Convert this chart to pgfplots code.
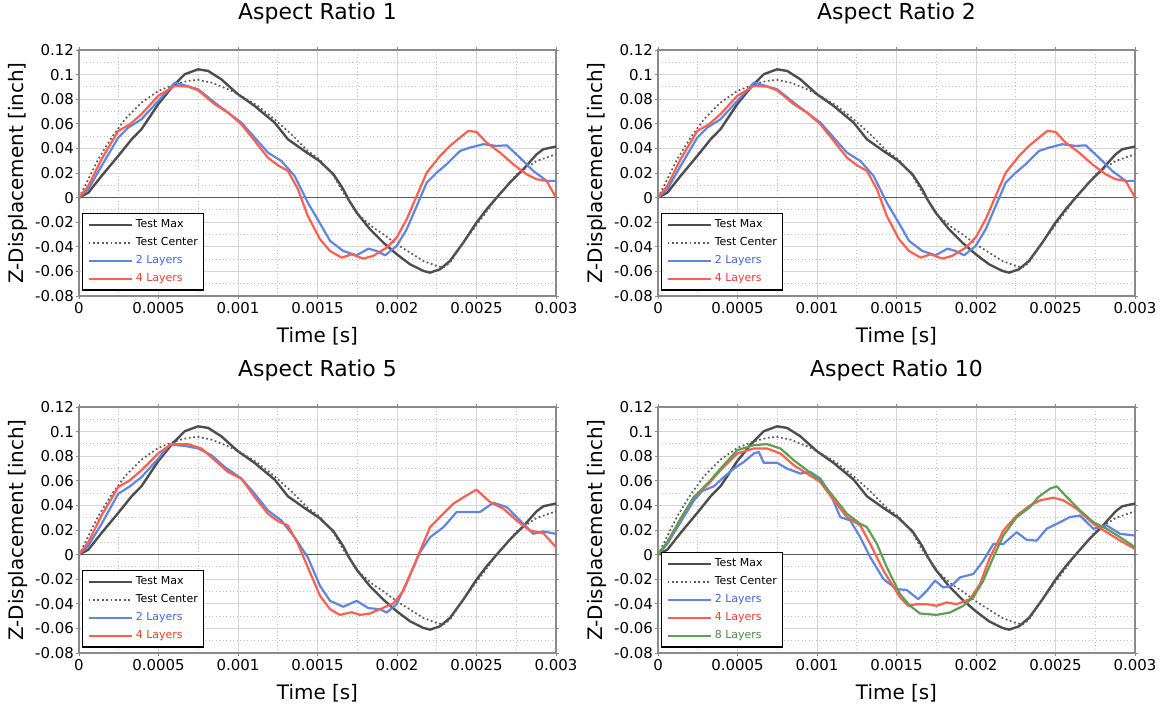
\documentclass[border=0pt]{standalone}
\usepackage{pgfplots}
\pgfplotsset{compat=1.18}
\usepackage{pgfplotstable}
\usepackage{fontspec}
\setmainfont{DejaVu Sans}

\definecolor{tmaxc}{HTML}{4D4D4D}
\definecolor{tcenc}{HTML}{5A5A5A}
\definecolor{lay2}{HTML}{5F86E0}
\definecolor{lay4}{HTML}{FF5F4F}
\definecolor{lay8}{HTML}{5E9E55}
\definecolor{lay2t}{HTML}{3F68DC}
\definecolor{lay4t}{HTML}{F03E2E}
\definecolor{lay8t}{HTML}{4A8A42}
\definecolor{gridmaj}{HTML}{D6D6D6}
\definecolor{gridmin}{HTML}{BDBDBD}
\definecolor{axisgray}{HTML}{8A8A8A}
\definecolor{zerogray}{HTML}{5A5A5A}

\pgfplotstableread{
t v
0 0
0.0000586 0.004
0.000142 0.0176
0.000247 0.0339
0.000331 0.0474
0.000393 0.0556
0.000498 0.0759
0.000582 0.0894
0.000665 0.1003
0.000749 0.1043
0.000812 0.1030
0.000895 0.0962
0.001 0.0840
0.001105 0.0745
0.00123 0.0610
0.001314 0.0474
0.001418 0.0379
0.001512 0.0298
0.0016 0.019
0.001662 0.0068
0.001694 -0.0014
0.001746 -0.0122
0.00183 -0.0257
0.001914 -0.0366
0.001998 -0.046
0.002082 -0.0542
0.002166 -0.0596
0.002208 -0.061
0.00227 -0.0583
0.002333 -0.0515
0.002417 -0.0366
0.0025 -0.0203
0.002564 -0.0095
0.002627 0
0.00271 0.0122
0.002794 0.023
0.002878 0.0352
0.00292 0.0393
0.003 0.0415
}\tmax

\pgfplotstableread{
t v
0 0
0.0000377 0.0095
0.000121 0.0312
0.000205 0.0488
0.000289 0.0637
0.000393 0.0772
0.000498 0.0867
0.000603 0.0921
0.000686 0.0949
0.000749 0.0957
0.000833 0.0935
0.000937 0.0881
0.001021 0.0827
0.001125 0.0745
0.00123 0.0637
0.001335 0.0515
0.001439 0.0379
0.001512 0.0312
0.0016 0.018
0.001662 0.004
0.001767 -0.0149
0.00185 -0.0244
0.001914 -0.0298
0.001998 -0.0379
0.002082 -0.0447
0.002166 -0.0515
0.00225 -0.0556
0.002292 -0.0569
0.002333 -0.0528
0.002417 -0.0366
0.002543 -0.0149
0.002627 0
0.002752 0.019
0.002878 0.0298
0.003 0.0352
}\tcen

\pgfplotstableread{
t v
0 0
0.0000586 0.0068
0.000142 0.0257
0.000247 0.0488
0.00031 0.0569
0.000393 0.0637
0.000498 0.0786
0.000603 0.0935
0.000665 0.0913
0.000749 0.0881
0.000854 0.0772
0.000937 0.0691
0.001021 0.061
0.001105 0.0488
0.001188 0.0366
0.001272 0.0298
0.001356 0.0176
0.001439 -0.0041
0.001516 -0.021
0.001579 -0.0352
0.001662 -0.0434
0.001746 -0.0469
0.00182 -0.0415
0.001872 -0.0434
0.001925 -0.0469
0.001998 -0.0393
0.002061 -0.0257
0.002124 -0.0068
0.002187 0.0122
0.00225 0.0203
0.002312 0.0271
0.002396 0.0379
0.00246 0.0407
0.002543 0.0434
0.002627 0.042
0.00269 0.0425
0.002773 0.0325
0.002857 0.0217
0.002941 0.0136
0.003 0.0136
}\atwo

\pgfplotstableread{
t v
0 0
0.0000586 0.0095
0.000142 0.0312
0.000247 0.0542
0.00032 0.0596
0.000393 0.0678
0.000498 0.0827
0.000603 0.0908
0.000686 0.0902
0.000749 0.0873
0.000854 0.0759
0.000937 0.0691
0.001021 0.0596
0.001105 0.0461
0.001188 0.0325
0.001251 0.0263
0.001314 0.0217
0.001377 0.0068
0.001439 -0.0149
0.001516 -0.0339
0.001579 -0.0434
0.001652 -0.0488
0.001715 -0.0461
0.001788 -0.0496
0.00185 -0.0474
0.001935 -0.0407
0.001998 -0.0325
0.002061 -0.0176
0.002124 0.0014
0.002187 0.0203
0.002271 0.0339
0.002333 0.042
0.002396 0.0488
0.002448 0.0542
0.0025 0.0534
0.002564 0.0447
0.002648 0.0366
0.002731 0.0271
0.002815 0.019
0.002878 0.0149
0.002941 0.0136
0.003 0
}\afour

\pgfplotstableread{
t v
0 0
0.0000586 0.0073
0.000142 0.025
0.000247 0.0495
0.00032 0.0555
0.000393 0.063
0.000498 0.078
0.000571 0.0895
0.000665 0.0884
0.000749 0.0863
0.000833 0.0808
0.000916 0.0713
0.001021 0.0618
0.001105 0.0495
0.001188 0.0359
0.001272 0.0278
0.001356 0.0141
0.001439 -0.0022
0.001516 -0.0255
0.001579 -0.0376
0.001662 -0.0424
0.001746 -0.0376
0.00182 -0.0435
0.001893 -0.0444
0.001935 -0.0471
0.001998 -0.0403
0.002061 -0.0226
0.002145 0.0019
0.002208 0.0141
0.002292 0.0223
0.002375 0.0346
0.002459 0.0346
0.002522 0.0346
0.002606 0.0422
0.00269 0.0386
0.002773 0.0278
0.002857 0.0169
0.00292 0.0188
0.003 0.0169
}\ctwo

\pgfplotstableread{
t v
0 0
0.0000586 0.0101
0.000142 0.0318
0.000247 0.055
0.00032 0.0604
0.000393 0.0686
0.000498 0.0822
0.000582 0.0898
0.000686 0.0898
0.00077 0.0863
0.000854 0.0767
0.000937 0.0672
0.001021 0.0618
0.001105 0.0468
0.001188 0.0332
0.001251 0.0272
0.001314 0.0237
0.001377 0.0087
0.001439 -0.0103
0.001516 -0.0335
0.001579 -0.0444
0.001641 -0.049
0.001715 -0.0468
0.001767 -0.049
0.00183 -0.0479
0.001893 -0.0444
0.001977 -0.0397
0.00204 -0.0294
0.002124 -0.0035
0.002208 0.0223
0.00227 0.0305
0.002354 0.0414
0.002438 0.0482
0.0025 0.0528
0.002585 0.0427
0.002669 0.0373
0.002752 0.0278
0.002836 0.0196
0.00292 0.0174
0.003 0.006
}\cfour

\pgfplotstableread{
t v
0 0
0.0000586 0.0087
0.000142 0.0264
0.000226 0.0441
0.000278 0.0517
0.000351 0.0555
0.000414 0.0631
0.000477 0.0699
0.00054 0.0754
0.000603 0.0822
0.000634 0.0835
0.000665 0.0746
0.000749 0.0746
0.000812 0.0699
0.000895 0.0659
0.000958 0.0672
0.001021 0.0618
0.001084 0.0495
0.001146 0.0305
0.001209 0.0278
0.001272 0.0141
0.001335 -0.0022
0.001418 -0.0199
0.0015 -0.028
0.001564 -0.0288
0.001637 -0.0362
0.00169 -0.0294
0.001742 -0.0212
0.001795 -0.0267
0.001847 -0.0253
0.0019 -0.0185
0.001983 -0.0158
0.002046 -0.0049
0.002109 0.0087
0.002172 0.0087
0.002256 0.0182
0.002319 0.012
0.002382 0.0114
0.002444 0.021
0.002508 0.025
0.002591 0.0305
0.002654 0.0318
0.002738 0.021
0.002822 0.0237
0.002906 0.0169
0.003 0.0155
}\dtwo

\pgfplotstableread{
t v
0 0
0.0000586 0.0101
0.000142 0.0291
0.000226 0.0468
0.00032 0.0577
0.000393 0.0686
0.000498 0.0822
0.000603 0.0863
0.000686 0.0863
0.00077 0.0822
0.000854 0.0727
0.000937 0.0659
0.001021 0.059
0.001105 0.0441
0.001188 0.0305
0.001272 0.0237
0.001335 0.0087
0.001418 -0.0131
0.001522 -0.0348
0.001574 -0.0416
0.001627 -0.0403
0.00169 -0.0403
0.001752 -0.0416
0.001815 -0.0389
0.001878 -0.0403
0.001962 -0.0362
0.002025 -0.0239
0.002088 -0.0022
0.002172 0.0196
0.002256 0.0318
0.00234 0.04
0.002403 0.0441
0.002486 0.0463
0.00255 0.0441
0.002633 0.0373
0.002738 0.025
0.002822 0.0182
0.002906 0.0114
0.003 0.0046
}\dfour

\pgfplotstableread{
t v
0 0
0.0000586 0.0101
0.000142 0.0291
0.000226 0.0468
0.00032 0.059
0.000393 0.0699
0.000498 0.0849
0.000603 0.089
0.000686 0.0898
0.00077 0.0863
0.000854 0.0767
0.000937 0.0686
0.001021 0.0604
0.001105 0.0468
0.001188 0.0332
0.001272 0.025
0.001314 0.0223
0.001377 0.0087
0.001439 -0.0103
0.001522 -0.0321
0.001585 -0.0416
0.001648 -0.0479
0.001752 -0.049
0.001836 -0.0471
0.00192 -0.0416
0.001983 -0.0348
0.002046 -0.0212
0.002109 -0.0022
0.002172 0.0155
0.002256 0.0305
0.00234 0.0386
0.002392 0.0468
0.002465 0.0536
0.002508 0.0555
0.002571 0.0468
0.002654 0.0359
0.002738 0.0264
0.002822 0.021
0.002906 0.0141
0.003 0.006
}\deight

\pgfplotsset{
  myaxis/.style={
    scale only axis, width=477bp, height=246bp,
    xmin=0, xmax=0.003, ymin=-0.08, ymax=0.12,
    scaled x ticks=false, scaled y ticks=false,
    xtick={0,0.0005,0.001,0.0015,0.002,0.0025,0.003},
    xticklabels={0,0.0005,0.001,0.0015,0.002,0.0025,0.003},
    ytick={-0.08,-0.06,-0.04,-0.02,0,0.02,0.04,0.06,0.08,0.1,0.12},
    yticklabels={-0.08,-0.06,-0.04,-0.02,0,0.02,0.04,0.06,0.08,0.1,0.12},
    minor xtick={0.00025,0.00075,0.00125,0.00175,0.00225,0.00275},
    minor ytick={-0.07,-0.05,-0.03,-0.01,0.01,0.03,0.05,0.07,0.09,0.11},
    grid=both,
    major grid style={draw=gridmaj, line width=0.9bp},
    minor grid style={draw=gridmin, line width=0.9bp, dash pattern=on 1bp off 2.5bp},
    axis line style={draw=axisgray, line width=1.3bp},
    tick align=outside, major tick length=3bp, minor tick length=0bp,
    tick style={draw=axisgray, line width=1bp},
    every tick label/.append style={font=\fontsize{15}{18}\selectfont, text=black},
    xticklabel style={inner sep=3bp},
    yticklabel style={inner sep=2bp},
    title style={at={(axis description cs:0.5,1.098)}, anchor=base, font=\fontsize{22}{26}\selectfont},
    xlabel style={at={(axis description cs:0.5,-0.187)}, anchor=base, font=\fontsize{20}{24}\selectfont},
    ylabel style={at={(axis description cs:-0.128,0.5)}, anchor=center, font=\fontsize{20}{24}\selectfont},
    xlabel={Time [s]}, ylabel={Z-Displacement [inch]},
    legend style={at={(axis description cs:0.006,0.022)}, anchor=south west,
      draw=black, line width=1.2bp, fill=white,
      font=\fontsize{11}{13}\selectfont, inner sep=5bp, row sep=5.5bp, column sep=2bp,
      nodes={inner sep=1bp, text height=8bp, text depth=2.5bp}},
    legend cell align=left,
    legend image code/.code={\draw[##1] (0bp,0bp) -- (43bp,0bp);},
  },
  maxstyle/.style={draw=tmaxc, line width=2.4bp, line join=round},
  censtyle/.style={draw=tcenc, line width=1.7bp, dash pattern=on 1.8bp off 2.6bp},
  twostyle/.style={draw=lay2, line width=2.2bp, line join=round},
  fourstyle/.style={draw=lay4, line width=2.2bp, line join=round},
  eightstyle/.style={draw=lay8, line width=2.2bp, line join=round},
}

\begin{document}
\begin{tikzpicture}
\useasboundingbox (0bp,0bp) rectangle (1164bp,-711bp);

% Aspect Ratio 1
\begin{axis}[myaxis, at={(79bp,-296bp)}, anchor=south west, title={Aspect Ratio 1}]
\addplot[forget plot, draw=zerogray, line width=1.3bp] coordinates {(0,0) (0.003,0)};
\addplot[maxstyle] table[x=t,y=v] {\tmax};
\addlegendentry{Test Max}
\addplot[censtyle] table[x=t,y=v] {\tcen};
\addlegendentry{Test Center}
\addplot[twostyle] table[x=t,y=v] {\atwo};
\addlegendentry{\textcolor{lay2t}{2 Layers}}
\addplot[fourstyle] table[x=t,y=v] {\afour};
\addlegendentry{\textcolor{lay4t}{4 Layers}}
\end{axis}

% Aspect Ratio 2
\begin{axis}[myaxis, at={(658bp,-296bp)}, anchor=south west, title={Aspect Ratio 2}]
\addplot[forget plot, draw=zerogray, line width=1.3bp] coordinates {(0,0) (0.003,0)};
\addplot[maxstyle] table[x=t,y=v] {\tmax};
\addlegendentry{Test Max}
\addplot[censtyle] table[x=t,y=v] {\tcen};
\addlegendentry{Test Center}
\addplot[twostyle] table[x=t,y=v] {\atwo};
\addlegendentry{\textcolor{lay2t}{2 Layers}}
\addplot[fourstyle] table[x=t,y=v] {\afour};
\addlegendentry{\textcolor{lay4t}{4 Layers}}
\end{axis}

% Aspect Ratio 5
\begin{axis}[myaxis, at={(79bp,-653bp)}, anchor=south west, title={Aspect Ratio 5}]
\addplot[forget plot, draw=zerogray, line width=1.3bp] coordinates {(0,0) (0.003,0)};
\addplot[maxstyle] table[x=t,y=v] {\tmax};
\addlegendentry{Test Max}
\addplot[censtyle] table[x=t,y=v] {\tcen};
\addlegendentry{Test Center}
\addplot[twostyle] table[x=t,y=v] {\ctwo};
\addlegendentry{\textcolor{lay2t}{2 Layers}}
\addplot[fourstyle] table[x=t,y=v] {\cfour};
\addlegendentry{\textcolor{lay4t}{4 Layers}}
\end{axis}

% Aspect Ratio 10
\begin{axis}[myaxis, at={(658bp,-653bp)}, anchor=south west, title={Aspect Ratio 10}]
\addplot[forget plot, draw=zerogray, line width=1.3bp] coordinates {(0,0) (0.003,0)};
\addplot[maxstyle] table[x=t,y=v] {\tmax};
\addlegendentry{Test Max}
\addplot[censtyle] table[x=t,y=v] {\tcen};
\addlegendentry{Test Center}
\addplot[twostyle] table[x=t,y=v] {\dtwo};
\addlegendentry{\textcolor{lay2t}{2 Layers}}
\addplot[fourstyle] table[x=t,y=v] {\dfour};
\addlegendentry{\textcolor{lay4t}{4 Layers}}
\addplot[eightstyle] table[x=t,y=v] {\deight};
\addlegendentry{\textcolor{lay8t}{8 Layers}}
\end{axis}
\end{tikzpicture}
\end{document}
